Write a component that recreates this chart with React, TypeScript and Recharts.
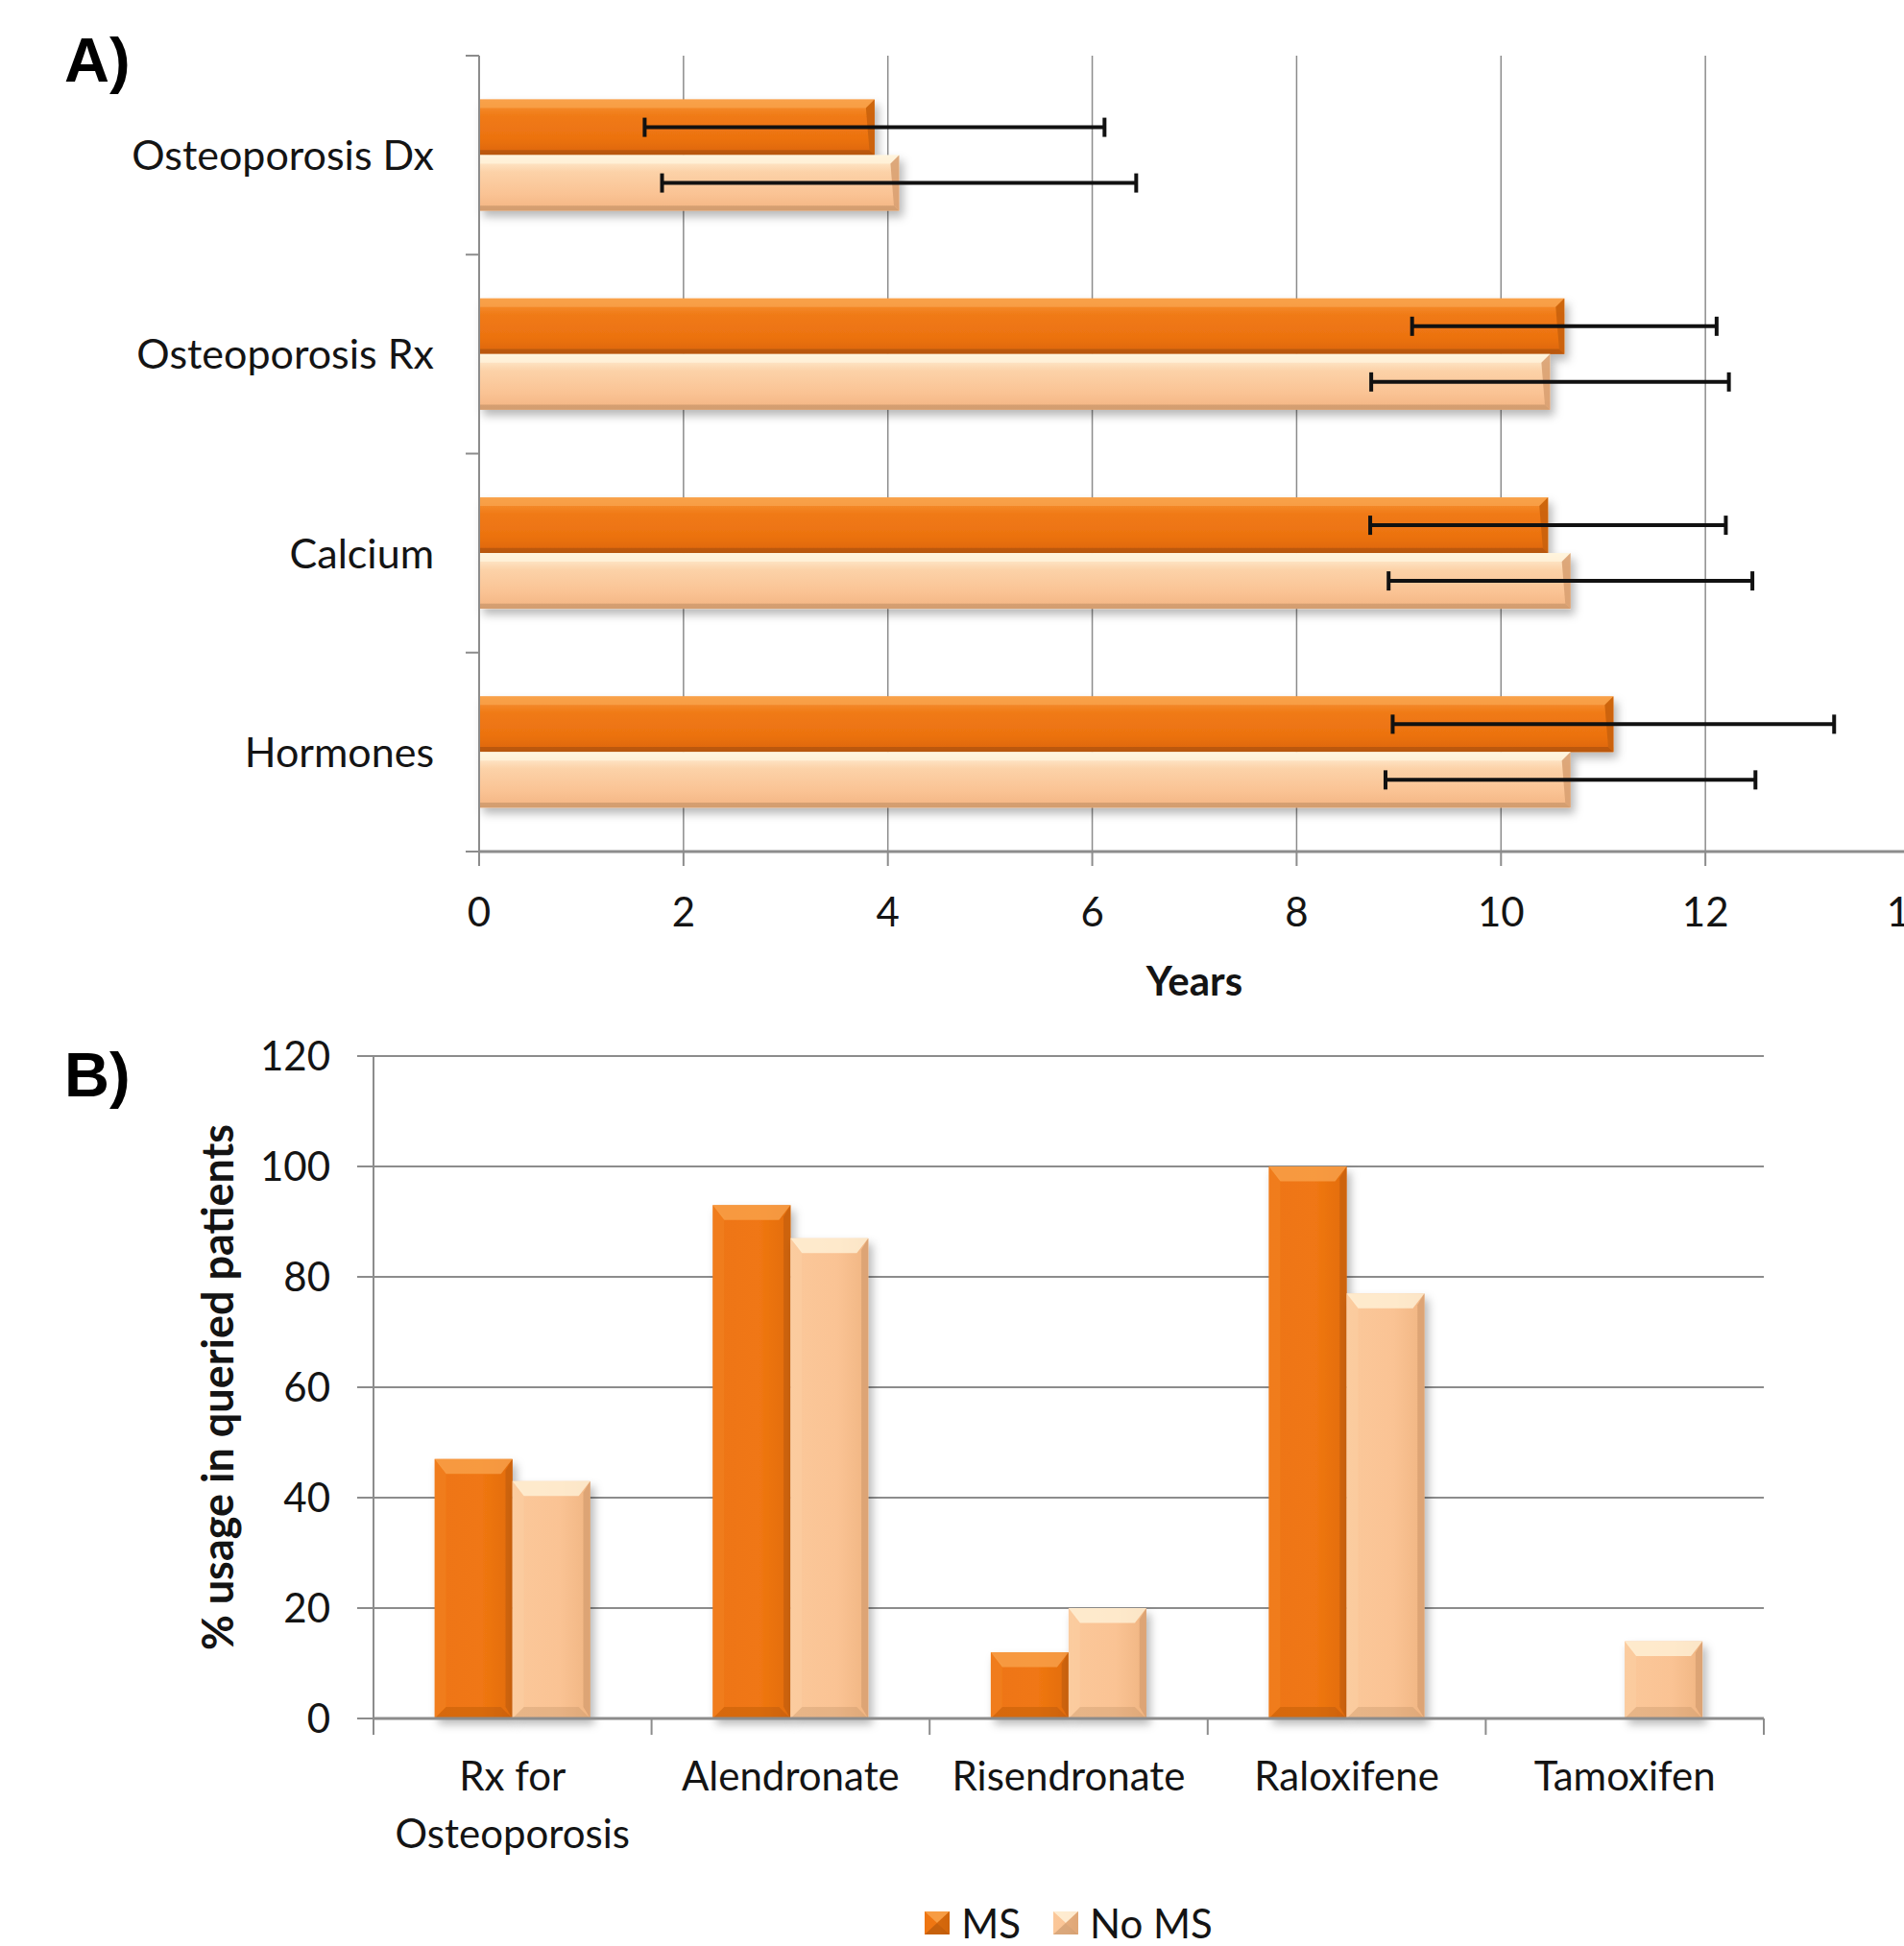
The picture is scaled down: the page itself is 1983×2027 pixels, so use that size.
import React from 'react';
import { BarChart, Bar, XAxis, YAxis, CartesianGrid, ErrorBar, Legend, Label } from 'recharts';

// ---------- data ----------
const catsA = ['Osteoporosis Dx', 'Osteoporosis Rx', 'Calcium', 'Hormones'];
const msYears = [3.87, 10.62, 10.46, 11.1];
const msYearsErr = [2.25, 1.49, 1.74, 2.16];
const noMsYears = [4.11, 10.48, 10.68, 10.68];
const noMsYearsErr = [2.32, 1.75, 1.78, 1.81];
const yearTicks = [0, 2, 4, 6, 8, 10, 12, 14];

const catsB = ['Rx for Osteoporosis', 'Alendronate', 'Risendronate', 'Raloxifene', 'Tamoxifen'];
const msPct = [47, 93, 12, 100, 0];
const noMsPct = [43, 87, 20, 77, 14];
const pctTicks = [0, 20, 40, 60, 80, 100, 120];

const seriesNames = ['MS', 'No MS'];

const dataA = catsA.map((name, i) => ({
  name,
  ms: msYears[i],
  msErr: msYearsErr[i],
  noMs: noMsYears[i],
  noMsErr: noMsYearsErr[i],
}));
const dataB = catsB.map((name, i) => ({ name, ms: msPct[i], noMs: noMsPct[i] }));

// ---------- style ----------
const FONT = 'Lato, "Open Sans", sans-serif';
const FS = 42;
const GRID = '#8c8c8c';
const TXT = '#141414';

type Pal = { id: string; light: string; dark: string; side: string; left: string };
const MS_PAL: Pal = { id: 'ms', light: '#F9A650', dark: '#9E4C08', side: '#C9620C', left: '#F28424' };
const NO_PAL: Pal = { id: 'no', light: '#FFF5DE', dark: '#B98A60', side: '#D9A172', left: '#FCCFA4' };

let measureCtx: CanvasRenderingContext2D | null = null;
const measure = (s: string) => {
  if (typeof document === 'undefined') return s.length * FS * 0.5;
  if (!measureCtx) {
    const c = document.createElement('canvas');
    measureCtx = c.getContext('2d');
  }
  if (!measureCtx) return s.length * FS * 0.5;
  measureCtx.font = `${FS}px Lato, "Open Sans", sans-serif`;
  return measureCtx.measureText(s).width;
};
const wrapWords = (text: string, maxW: number) => {
  const words = String(text).split(/\s+/);
  const lines: string[] = [];
  let cur = '';
  words.forEach((w) => {
    const t = cur ? cur + ' ' + w : w;
    if (cur && measure(t) > maxW) {
      lines.push(cur);
      cur = w;
    } else cur = t;
  });
  if (cur) lines.push(cur);
  return lines;
};

const HBar = (pal: Pal) => (p: any) => {
  const { x, y, width: w, height: h } = p;
  if (!(w > 0) || !(h > 0)) return <g />;
  const b = Math.min(9, h / 3, w / 2);
  return (
    <g filter="url(#barShadow)">
      <rect x={x} y={y} width={w} height={h} fill={`url(#${pal.id}V)`} />
      <polygon points={`${x},${y} ${x + w},${y} ${x + w - b},${y + b} ${x},${y + b}`} fill={pal.light} opacity={0.7} />
      <polygon points={`${x},${y + h - b * 0.6} ${x + w - b * 0.6},${y + h - b * 0.6} ${x + w},${y + h} ${x},${y + h}`} fill={pal.dark} opacity={0.55} />
      <polygon points={`${x + w - b},${y + b} ${x + w},${y} ${x + w},${y + h} ${x + w - b * 0.6},${y + h - b * 0.6}`} fill={pal.side} opacity={0.9} />
    </g>
  );
};

const VBar = (pal: Pal) => (p: any) => {
  const { x, y, width: w, height: h } = p;
  if (!(w > 0) || !(h > 0)) return <g />;
  const b = Math.min(12, h / 2, w / 4);
  return (
    <g filter="url(#barShadow)">
      <rect x={x} y={y} width={w} height={h} fill={`url(#${pal.id}H)`} />
      <polygon points={`${x},${y} ${x + b},${y + b} ${x + b},${y + h - b} ${x},${y + h}`} fill={pal.left} opacity={0.5} />
      <polygon points={`${x + w},${y} ${x + w - b * 0.6},${y + b} ${x + w - b * 0.6},${y + h - b} ${x + w},${y + h}`} fill={pal.side} opacity={0.85} />
      <polygon points={`${x},${y} ${x + w},${y} ${x + w - b},${y + b * 1.3} ${x + b},${y + b * 1.3}`} fill={pal.light} opacity={0.75} />
      <polygon points={`${x},${y + h} ${x + b},${y + h - b} ${x + w - b},${y + h - b} ${x + w},${y + h}`} fill={pal.dark} opacity={0.3} />
    </g>
  );
};

const ATick = (props: any) => {
  const { x, y, payload, index } = props;
  const off = payload && typeof payload.offset === 'number' ? payload.offset : 0;
  const axisX = x + 14;
  return (
    <g>
      {off > 0 && <line x1={axisX - 14} x2={axisX} y1={y - off} y2={y - off} stroke={GRID} strokeWidth={2} />}
      {off > 0 && index === catsA.length - 1 && (
        <line x1={axisX - 14} x2={axisX} y1={y + off} y2={y + off} stroke={GRID} strokeWidth={2} />
      )}
      <text x={axisX - 47} y={y} dy="0.36em" textAnchor="end" fontFamily={FONT} fontSize={43} fill={TXT}>
        {payload.value}
      </text>
    </g>
  );
};

const BTick = (props: any) => {
  const { x, y, payload, index } = props;
  const off = payload && typeof payload.offset === 'number' ? payload.offset : 0;
  const axisY = y - 16;
  const lines = wrapWords(payload.value, off > 0 ? off * 2 - 6 : 284);
  return (
    <g>
      {off > 0 && <line x1={x - off} x2={x - off} y1={axisY} y2={axisY + 17} stroke={GRID} strokeWidth={2} />}
      {off > 0 && index === catsB.length - 1 && (
        <line x1={x + off} x2={x + off} y1={axisY} y2={axisY + 17} stroke={GRID} strokeWidth={2} />
      )}
      <text x={x} y={axisY + 45} textAnchor="middle" fontFamily={FONT} fontSize={FS} fill={TXT}>
        {lines.map((l, i) => (
          <tspan key={i} x={x} dy={i === 0 ? '0.71em' : 60}>
            {l}
          </tspan>
        ))}
      </text>
    </g>
  );
};

const LegendIcon = ({ pal }: { pal: Pal }) => (
  <svg width={26} height={24} style={{ display: 'block' }}>
    <rect x={0} y={0} width={26} height={24} fill={`url(#${pal.id}H)`} />
    <polygon points="0,0 26,0 13,12" fill={pal.light} opacity={0.8} />
    <polygon points="0,24 26,24 13,12" fill={pal.dark} opacity={0.5} />
    <polygon points="26,0 26,24 13,12" fill={pal.side} opacity={0.7} />
  </svg>
);

const renderLegend = (props: any) => {
  const payload = props.payload || [];
  return (
    <div
      style={{
        display: 'flex',
        justifyContent: 'center',
        alignItems: 'center',
        height: 40,
        fontFamily: FONT,
        fontSize: FS,
        color: TXT,
        lineHeight: '40px',
      }}
    >
      {payload.map((e: any, i: number) => (
        <div key={i} style={{ display: 'flex', alignItems: 'center', marginRight: i === 0 ? 34 : 0 }}>
          <LegendIcon pal={e.dataKey === 'ms' ? MS_PAL : NO_PAL} />
          <span style={{ marginLeft: 12 }}>{e.value}</span>
        </div>
      ))}
    </div>
  );
};

const YTitleB = (p: any) => {
  const vb = p.viewBox || { x: 0, y: 40, width: 389, height: 690 };
  const cx = vb.x + 243;
  const cy = vb.y + vb.height / 2;
  return (
    <text
      x={cx}
      y={cy}
      transform={`rotate(-90 ${cx} ${cy})`}
      textAnchor="middle"
      fontFamily={FONT}
      fontWeight={700}
      fontSize={45}
      fill={TXT}
    >
      % usage in queried patients
    </text>
  );
};

export default function App() {
  return (
    <div
      style={{
        position: 'absolute',
        left: 0,
        top: 0,
        width: 1983,
        height: 2027,
        overflow: 'hidden',
        background: '#fff',
        fontFamily: FONT,
      }}
    >
      <svg width={0} height={0} style={{ position: 'absolute' }}>
        <defs>
          <filter id="barShadow" x="-10%" y="-20%" width="130%" height="160%">
            <feDropShadow dx={4} dy={6} stdDeviation={5} floodColor="#000" floodOpacity={0.28} />
          </filter>
          <linearGradient id="msV" x1="0" y1="0" x2="0" y2="1">
            <stop offset="0%" stopColor="#F7963A" />
            <stop offset="30%" stopColor="#F07A16" />
            <stop offset="70%" stopColor="#EC7210" />
            <stop offset="100%" stopColor="#DC660B" />
          </linearGradient>
          <linearGradient id="noV" x1="0" y1="0" x2="0" y2="1">
            <stop offset="0%" stopColor="#FFF3DC" />
            <stop offset="30%" stopColor="#FCD2A8" />
            <stop offset="70%" stopColor="#FAC394" />
            <stop offset="100%" stopColor="#F3B482" />
          </linearGradient>
          <linearGradient id="msH" x1="0" y1="0" x2="1" y2="0">
            <stop offset="0%" stopColor="#EE7512" />
            <stop offset="60%" stopColor="#F07712" />
            <stop offset="100%" stopColor="#E26C0C" />
          </linearGradient>
          <linearGradient id="noH" x1="0" y1="0" x2="1" y2="0">
            <stop offset="0%" stopColor="#FBC89A" />
            <stop offset="60%" stopColor="#FAC394" />
            <stop offset="100%" stopColor="#F0B582" />
          </linearGradient>
        </defs>
      </svg>

      <div
        style={{
          position: 'absolute',
          left: 67,
          top: 30,
          fontFamily: '"Liberation Sans", Arial, sans-serif',
          fontWeight: 700,
          fontSize: 65,
          lineHeight: 1,
          color: '#000',
        }}
      >
        A)
      </div>
      <div
        style={{
          position: 'absolute',
          left: 67,
          top: 1087,
          fontFamily: '"Liberation Sans", Arial, sans-serif',
          fontWeight: 700,
          fontSize: 65,
          lineHeight: 1,
          color: '#000',
        }}
      >
        B)
      </div>

      <div style={{ position: 'absolute', left: 0, top: 0 }}>
        <BarChart
          width={2000}
          height={1060}
          data={dataA}
          layout="vertical"
          margin={{ top: 58, right: 11, bottom: 23, left: 0 }}
          barCategoryGap="22%"
          barGap={0}
        >
          <CartesianGrid horizontal={false} vertical stroke={GRID} strokeWidth={1.5} />
          <XAxis
            type="number"
            domain={[0, 14]}
            ticks={yearTicks}
            interval={0}
            height={150}
            tickSize={15}
            tickMargin={33}
            axisLine={{ stroke: GRID, strokeWidth: 3 }}
            tickLine={{ stroke: GRID, strokeWidth: 2 }}
            tick={{ fontFamily: FONT, fontSize: FS, fill: TXT }}
          >
            <Label value="Years" position="insideBottom" offset={0} fontFamily={FONT} fontSize={FS} fontWeight={700} fill={TXT} />
          </XAxis>
          <YAxis
            type="category"
            dataKey="name"
            width={499}
            interval={0}
            tickSize={14}
            tickMargin={0}
            tickLine={false}
            axisLine={{ stroke: GRID, strokeWidth: 2 }}
            tick={<ATick />}
          />
          <Bar dataKey="ms" name={seriesNames[0]} fill="#EE7410" shape={HBar(MS_PAL)} isAnimationActive={false}>
            <ErrorBar dataKey="msErr" direction="x" width={10} stroke="#111" strokeWidth={4} isAnimationActive={false} />
          </Bar>
          <Bar dataKey="noMs" name={seriesNames[1]} fill="#FAC394" shape={HBar(NO_PAL)} isAnimationActive={false}>
            <ErrorBar dataKey="noMsErr" direction="x" width={10} stroke="#111" strokeWidth={4} isAnimationActive={false} />
          </Bar>
        </BarChart>
      </div>

      <div style={{ position: 'absolute', left: 0, top: 1060 }}>
        <BarChart
          width={1983}
          height={967}
          data={dataB}
          margin={{ top: 40, right: 146, bottom: 0, left: 0 }}
          barCategoryGap="22%"
          barGap={0}
        >
          <CartesianGrid vertical={false} stroke={GRID} strokeWidth={2} />
          <XAxis
            type="category"
            dataKey="name"
            height={197}
            interval={0}
            tickSize={16}
            tickMargin={0}
            tickLine={false}
            axisLine={{ stroke: GRID, strokeWidth: 3 }}
            tick={<BTick />}
          />
          <YAxis
            type="number"
            domain={[0, 120]}
            ticks={pctTicks}
            interval={0}
            width={389}
            tickSize={17}
            tickMargin={28}
            axisLine={{ stroke: GRID, strokeWidth: 2 }}
            tickLine={{ stroke: GRID, strokeWidth: 2 }}
            tick={{ fontFamily: FONT, fontSize: FS, fill: TXT }}
          >
            <Label content={YTitleB} />
          </YAxis>
          <Legend
            verticalAlign="bottom"
            align="center"
            content={renderLegend}
            wrapperStyle={{ left: 389, width: 1448, height: 40, bottom: 4 }}
          />
          <Bar dataKey="ms" name={seriesNames[0]} fill="#EE7410" shape={VBar(MS_PAL)} isAnimationActive={false} />
          <Bar dataKey="noMs" name={seriesNames[1]} fill="#FAC394" shape={VBar(NO_PAL)} isAnimationActive={false} />
        </BarChart>
      </div>
    </div>
  );
}
